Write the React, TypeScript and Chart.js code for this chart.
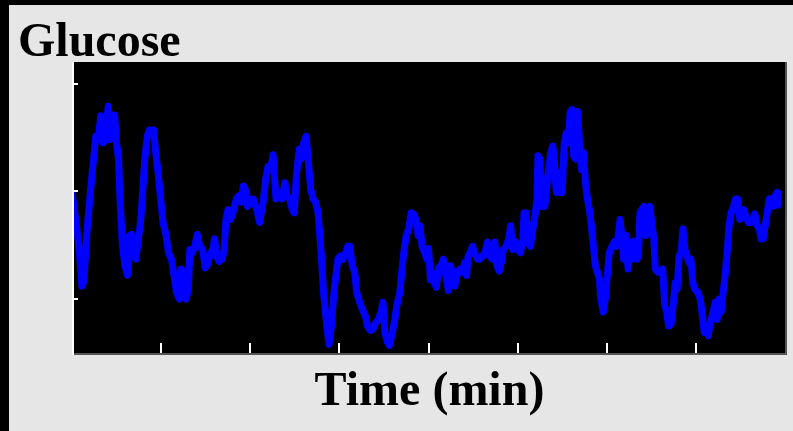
import React, { useEffect, useRef } from "react";
import { Chart, registerables } from "chart.js";

Chart.register(...registerables);

// Time of day in minutes (0 – 1440) and glucose (mg/dL)
const timeMin = [
  0, 9, 15, 20, 24, 30, 36, 42, 48, 53, 58, 63, 68, 73, 77, 81, 86, 90, 94, 97,
  102, 107, 112, 116, 120, 124, 129, 134, 139, 143, 147, 152, 156, 161, 165, 169, 174, 179, 184, 190,
  195, 201, 206, 211, 217, 221, 225, 230, 235, 238, 243, 248, 253, 258, 264, 269, 273, 278, 284, 288,
  292, 297, 303, 307, 311, 315, 320, 325, 332, 337, 342, 346, 350, 354, 359,
  366, 373, 379, 386, 391, 396, 401, 406, 412, 418, 424, 430, 434, 440, 445, 449, 453, 459, 463, 468,
  473, 477, 482, 487, 492, 497, 500, 504, 508, 514, 519, 524, 529, 533, 537, 542, 547, 553, 557, 561,
  566, 571, 575, 581, 586, 592, 597, 602, 608, 613, 619, 624, 628, 632, 637, 641, 647, 652, 656, 662,
  666, 670, 675, 680, 685, 690, 695, 699, 703, 707, 712, 717, 720, 724,
  726, 732, 736, 740, 745, 750, 755, 760, 764, 769, 773, 779, 784, 789, 793, 797, 800, 804, 809, 813,
  819, 824, 829, 834, 839, 843, 849, 854, 858, 863, 867, 871, 877, 882, 886, 890, 896, 901, 906, 910,
  913, 917, 921, 926, 930, 935, 939, 941, 945, 949, 955, 959, 963, 967, 971, 974, 978, 982, 986, 990,
  994, 998, 1002, 1006, 1010, 1013, 1017, 1021, 1025, 1029, 1033, 1037, 1041, 1045, 1049, 1053, 1057, 1061, 1065, 1068,
  1073, 1077,
  1081, 1085, 1091, 1095, 1100, 1104, 1107, 1111, 1114, 1119, 1123, 1127, 1131, 1136, 1141, 1144, 1147, 1151, 1155, 1159,
  1163, 1167, 1171, 1175, 1178, 1183, 1188, 1193, 1197, 1201, 1205, 1210, 1214, 1218, 1222, 1226, 1230, 1234, 1238, 1242,
  1246, 1250, 1254, 1258, 1264, 1269, 1273, 1277, 1281, 1285, 1289, 1293, 1299, 1303, 1307, 1311, 1315, 1319, 1323, 1327,
  1331, 1336, 1340, 1344, 1349, 1353, 1357, 1361, 1366, 1371, 1375, 1379, 1384, 1388, 1392, 1396, 1400, 1404, 1408, 1412,
  1416, 1420, 1424, 1425,
];

const glucose = [
  199, 168, 143, 112, 116, 162, 193, 223, 251, 248, 270, 245, 248, 279, 248, 260, 271, 245, 230, 193,
  149, 131, 122, 159, 160, 143, 137, 156, 174, 202, 230, 251, 257, 256, 257, 236, 217, 193, 171, 159,
  143, 137, 122, 106, 100, 128, 106, 100, 109, 146, 143, 149, 160, 149, 146, 129, 131, 140, 146, 156,
  140, 135, 137, 145, 174, 183, 174, 180, 193, 196, 190, 205, 202, 186, 193,
  193, 183, 171, 190, 211, 223, 220, 234, 193, 196, 193, 208, 196, 193, 183, 180, 214, 239, 230, 245,
  251, 230, 202, 193, 190, 180, 162, 137, 106, 78, 58, 75, 106, 122, 137, 140, 137, 143, 149, 149,
  131, 125, 106, 97, 91, 85, 75, 71, 72, 78, 81, 88, 97, 69, 60, 57, 69, 81, 94, 106,
  125, 143, 159, 165, 180, 179, 174, 159, 168, 149, 143, 137, 147, 118,
  125, 115, 111, 129, 131, 137, 122, 108, 131, 125, 112, 125, 128, 125, 134, 122, 140, 143, 149, 143,
  137, 137, 140, 143, 153, 140, 137, 153, 131, 126, 134, 146, 149, 156, 168, 146, 153, 146, 143, 153,
  180, 180, 153, 149, 162, 177, 193, 233, 230, 186, 186, 205, 223, 236, 242, 230, 199, 217, 199, 199,
  245, 254, 245, 273, 276, 233, 230, 274, 245, 220, 236, 208, 193, 183, 168, 149, 131, 125, 119, 100,
  88, 100,
  122, 143, 149, 153, 149, 162, 174, 156, 137, 159, 128, 153, 137, 154, 137, 140, 180, 183, 186, 159,
  183, 186, 171, 156, 128, 125, 125, 128, 94, 88, 75, 77, 94, 115, 109, 140, 143, 165, 146, 140,
  134, 137, 115, 109, 106, 100, 85, 69, 75, 66, 78, 85, 97, 81, 100, 88, 106, 122, 143, 168,
  180, 186, 193, 193, 174, 180, 183, 177, 171, 171, 174, 179, 168, 165, 156, 156, 168, 180, 193, 193,
  186, 196, 199, 187,
];

const xTickValues = [180, 360, 540, 720, 900, 1080, 1260];
const yTickValues = [100, 200, 300];
const chartTitle = "Glucose";
const xAxisTitle = "Time (min)";

const framePlugin = {
  id: "frame",
  beforeDraw(chart: any) {
    const { ctx, chartArea: a, width, height } = chart;
    ctx.save();
    ctx.fillStyle = "#e6e6e6";
    ctx.fillRect(0, 0, width, height);
    ctx.fillStyle = "#000000";
    ctx.fillRect(a.left, a.top, a.right - a.left, a.bottom - a.top);
    ctx.restore();
  },
  afterDraw(chart: any) {
    const { ctx, chartArea: a, scales } = chart;
    const xs = scales.x;
    const ys = scales.y;
    ctx.save();
    // right and bottom frame lines
    ctx.fillStyle = "#555555";
    ctx.fillRect(a.right, a.top, 2, a.bottom - a.top + 2);
    ctx.fillRect(a.left, a.bottom, a.right - a.left + 2, 2);
    // left axis line
    ctx.fillStyle = "#ffffff";
    ctx.fillRect(a.left, a.top, 2, a.bottom - a.top + 2);
    // y ticks (inward)
    yTickValues.forEach((v) => {
      const y = Math.round(ys.getPixelForValue(v));
      ctx.fillRect(a.left, y - 1, 6, 2);
    });
    // x ticks (inward)
    xTickValues.forEach((v) => {
      const x = Math.round(xs.getPixelForValue(v));
      ctx.fillRect(x - 1, a.bottom - 10, 2, 10);
    });
    // texts
    ctx.fillStyle = "#000000";
    ctx.font = 'bold 48px "Liberation Serif", "Times New Roman", serif';
    ctx.textBaseline = "alphabetic";
    ctx.textAlign = "left";
    ctx.fillText(chartTitle, 9, 51);
    ctx.textAlign = "center";
    ctx.fillText(xAxisTitle, (a.left + a.right) / 2 + 1, 400);
    ctx.restore();
  },
};

export default function App() {
  const canvasRef = useRef<HTMLCanvasElement | null>(null);

  useEffect(() => {
    const canvas = canvasRef.current;
    if (!canvas) return;
    const chart = new Chart(canvas, {
      type: "line",
      data: {
        datasets: [
          {
            data: timeMin.map((t, i) => ({ x: t, y: glucose[i] })),
            borderColor: "#0000ff",
            borderWidth: 7,
            pointRadius: 0,
            tension: 0,
            borderJoinStyle: "round",
            borderCapStyle: "round",
            fill: false,
          },
        ],
      },
      options: {
        responsive: false,
        animation: false,
        devicePixelRatio: 1,
        layout: { padding: { left: 63, right: 8, top: 57, bottom: 78 } },
        plugins: {
          legend: { display: false },
          title: { display: false },
          tooltip: { enabled: false },
        },
        scales: {
          x: { type: "linear", min: 0, max: 1440, display: false },
          y: { type: "linear", min: 50, max: 320, display: false },
        },
      },
      plugins: [framePlugin],
    });
    return () => chart.destroy();
  }, []);

  return (
    <div
      style={{
        position: "absolute",
        left: 0,
        top: 0,
        width: 793,
        height: 431,
        background: "#000000",
        overflow: "hidden",
      }}
    >
      <canvas
        ref={canvasRef}
        width={784}
        height={426}
        style={{ position: "absolute", left: 9, top: 5, width: 784, height: 426 }}
      />
    </div>
  );
}
